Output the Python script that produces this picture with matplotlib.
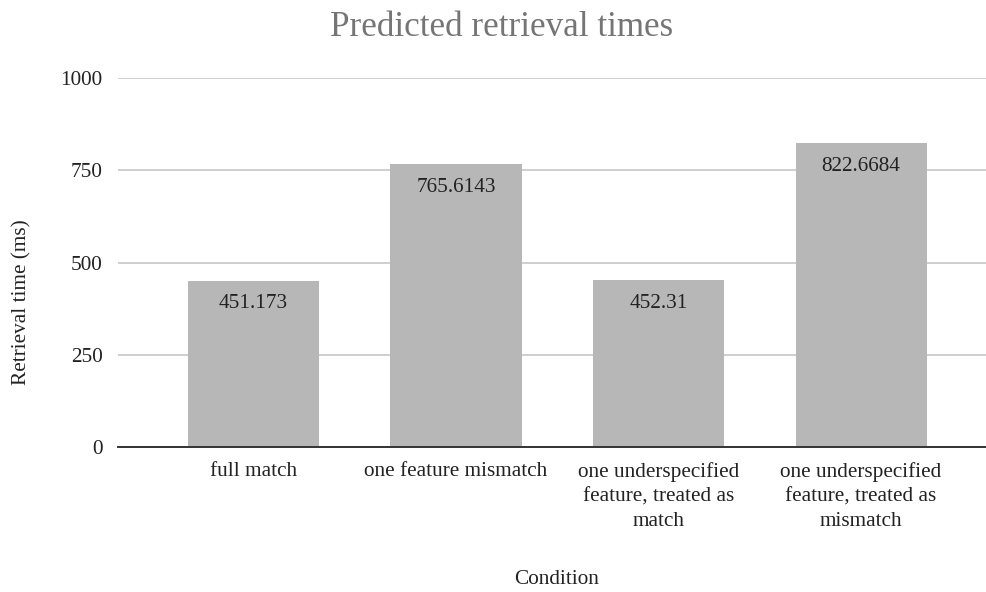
import matplotlib
matplotlib.use("Agg")
import matplotlib.pyplot as plt

conditions = ["full match", "one feature mismatch",
              "one underspecified\nfeature, treated as\nmatch",
              "one underspecified\nfeature, treated as\nmismatch"]
retrieval_ms = [451.173, 765.6143, 452.31, 822.6684]
value_labels = ["451.173", "765.6143", "452.31", "822.6684"]
yticks = [0, 250, 500, 750, 1000]

plt.rcParams['font.family'] = ['Liberation Serif', 'DejaVu Serif']
FS = 15.3

fig = plt.figure(figsize=(9.86, 5.92), dpi=100)
ax = fig.add_axes([118 / 986, 145 / 592, 868 / 986, 369 / 592])

x = list(range(len(conditions)))
bars = ax.bar(x, retrieval_ms, width=0.647, color="#b7b7b7", zorder=2)

for b, lab in zip(bars, value_labels):
    ax.annotate(lab, (b.get_x() + b.get_width() / 2, b.get_height()),
                xytext=(0, -10), textcoords="offset points",
                ha="center", va="top", fontsize=FS, color="#222222", zorder=3)

ax.set_xlim(-0.669, 3.617)
ax.set_ylim(0, 1000)
ax.set_yticks(yticks)
ax.set_yticklabels([str(t) for t in yticks], fontsize=FS, color="#222222")
ax.set_xticks(x)
ax.set_xticklabels(conditions, fontsize=FS, color="#222222", linespacing=1.38)
ax.tick_params(axis="both", length=0)
ax.tick_params(axis="y", pad=11)
ax.tick_params(axis="x", pad=11)

ax.grid(axis="y", color="#cccccc", linewidth=1.3, zorder=0)
for s in ["top", "right", "left"]:
    ax.spines[s].set_visible(False)
ax.spines["bottom"].set_color("#333333")
ax.spines["bottom"].set_linewidth(1.4)
ax.spines["bottom"].set_zorder(4)

fig.text(22 / 986, 1 - 302 / 592, "Retrieval time (ms)", rotation=90,
         ha="center", va="center", fontsize=FS, color="#222222")
fig.text(556.5 / 986, 1 - 579 / 592, "Condition", ha="center", va="center",
         fontsize=FS, color="#222222")
fig.text(501.5 / 986, 1 - 27 / 592, "Predicted retrieval times", ha="center", va="center",
         fontsize=25.2, color="#757575")

fig.savefig("out.png", dpi=100)
